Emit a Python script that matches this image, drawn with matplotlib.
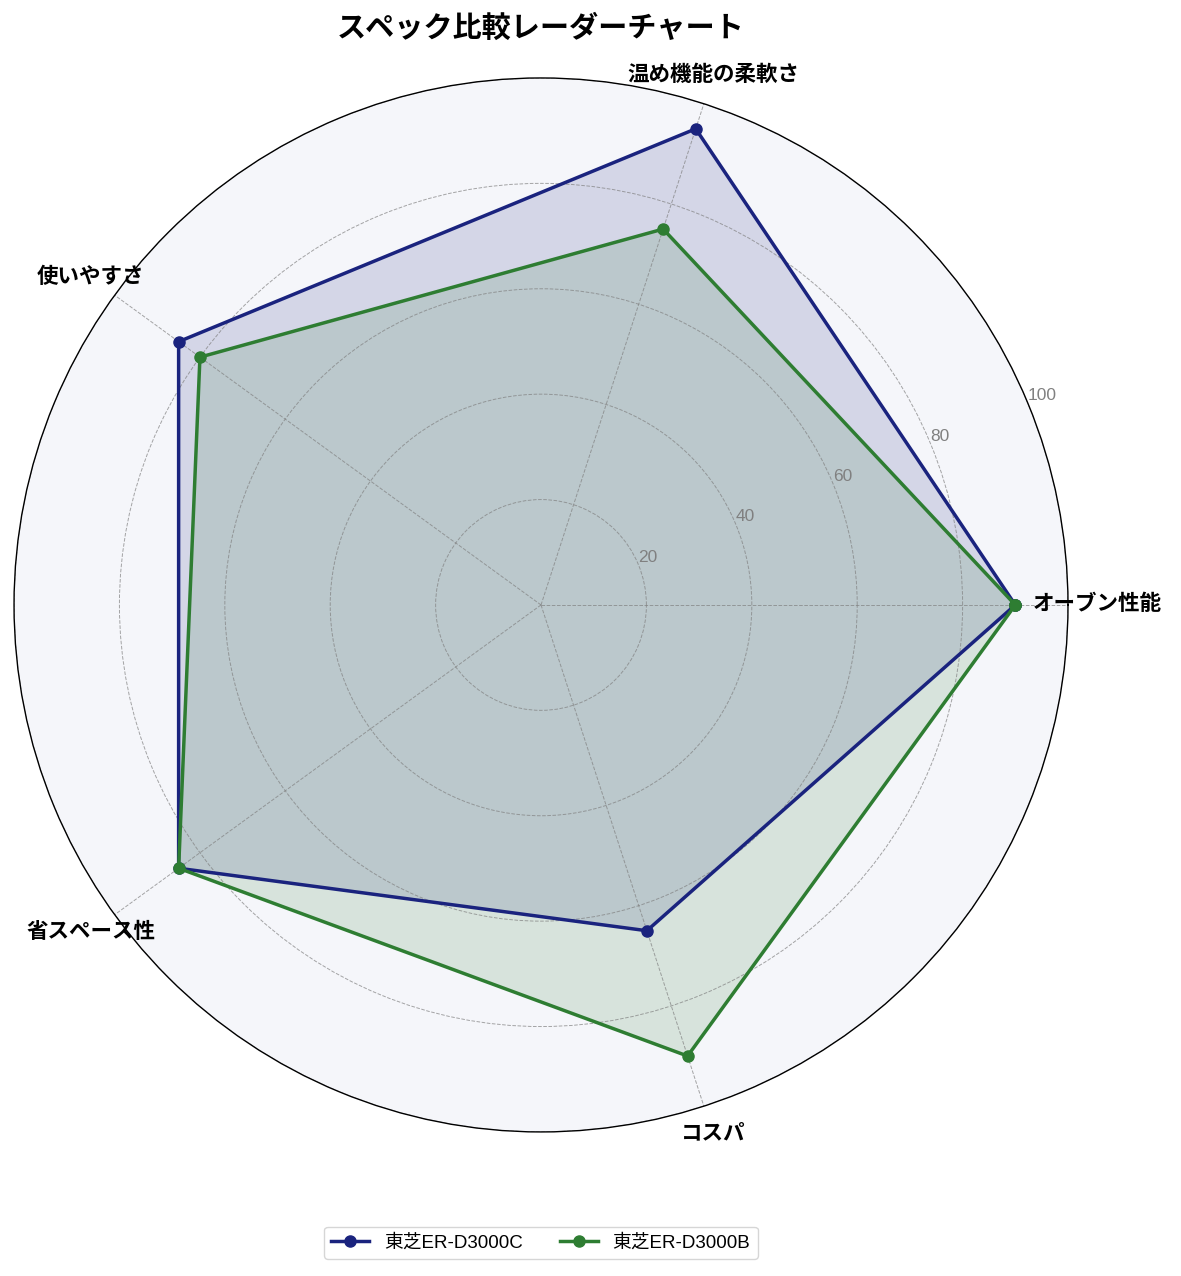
import numpy as np
import matplotlib
matplotlib.use("Agg")
import matplotlib.pyplot as plt

plt.rcParams['font.family'] = ['Liberation Sans', 'Noto Sans CJK JP', 'DejaVu Sans']

categories = ["オーブン性能", "温め機能の柔軟さ", "使いやすさ", "省スペース性", "コスパ"]
model_c = [90, 95, 85, 85, 65]
model_b = [90, 75, 80, 85, 90]
series_names = ["東芝ER-D3000C", "東芝ER-D3000B"]
series_colors = ["#1A237E", "#2E7D32"]
r_ticks = [20, 40, 60, 80, 100]

angles = np.linspace(0, 2 * np.pi, len(categories), endpoint=False)
angles_closed = np.concatenate([angles, angles[:1]])

fig = plt.figure(figsize=(11.81, 12.76), dpi=100)
ax = fig.add_axes([0.01185, 0.1129, 0.8925, 0.826], polar=True)
ax.set_facecolor("#F5F6FA")

for values, name, color in zip([model_c, model_b], series_names, series_colors):
    vals = np.concatenate([values, values[:1]])
    ax.plot(angles_closed, vals, color=color, linewidth=2.5, marker='o', markersize=8, label=name)
    ax.fill(angles_closed, vals, color=color, alpha=0.15)

ax.set_ylim(0, 100)
ax.set_yticks(r_ticks)
ax.set_yticklabels([str(t) for t in r_ticks], color="gray", fontsize=12.5)
ax.set_rlabel_position(22.5)
ax.set_xticks(angles)
ax.set_xticklabels([])
ax.grid(color="gray", linestyle="--", linewidth=0.7, alpha=0.7)
ax.spines['polar'].set_color("black")
ax.spines['polar'].set_linewidth(1.0)

# category labels centred just outside the outer ring
for ang, label in zip(angles, categories):
    ax.text(ang, 105.6, label, ha='center', va='center', fontsize=15.5, fontweight='bold')

fig.text(0.458, 0.9775, "スペック比較レーダーチャート", ha='center', va='center', fontsize=21, fontweight='bold')
fig.legend(loc='center', bbox_to_anchor=(0.458, 0.026), ncol=2, fontsize=13.5, frameon=True)

fig.savefig("out.png", dpi=100)
